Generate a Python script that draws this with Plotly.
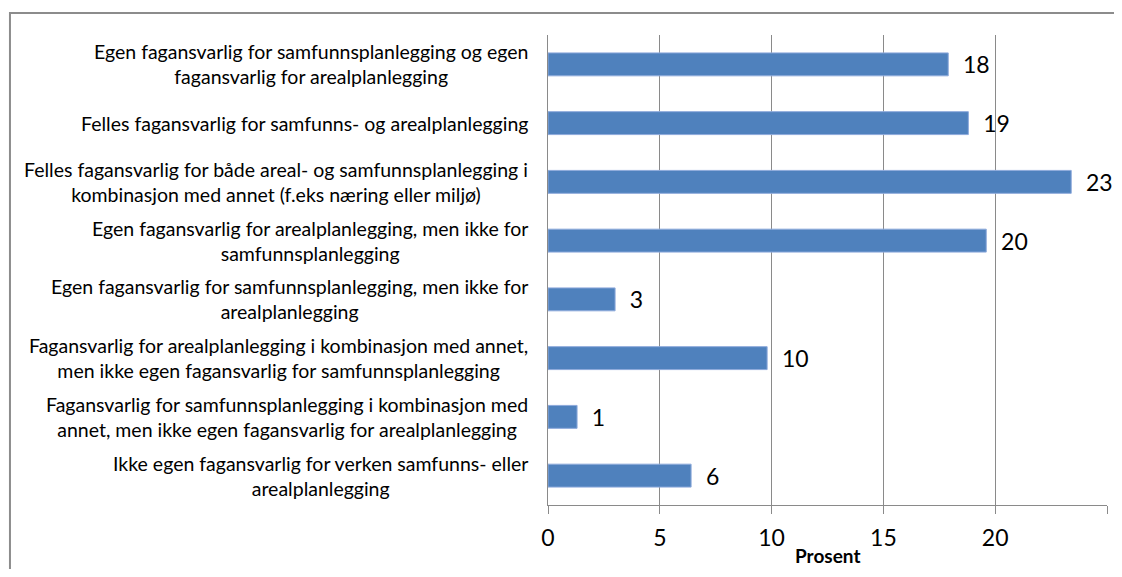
import plotly.graph_objects as go

categories = [
    "Egen fagansvarlig for samfunnsplanlegging og egen<br>fagansvarlig for arealplanlegging",
    "Felles fagansvarlig for samfunns- og arealplanlegging",
    "Felles fagansvarlig for både areal- og samfunnsplanlegging i<br>kombinasjon med annet (f.eks næring eller miljø)",
    "Egen fagansvarlig for arealplanlegging, men ikke for<br>samfunnsplanlegging",
    "Egen fagansvarlig for samfunnsplanlegging, men ikke for<br>arealplanlegging",
    "Fagansvarlig for arealplanlegging i kombinasjon med annet,<br>men ikke egen fagansvarlig for samfunnsplanlegging",
    "Fagansvarlig for samfunnsplanlegging i kombinasjon med<br>annet, men ikke egen fagansvarlig for arealplanlegging",
    "Ikke egen fagansvarlig for verken samfunns- eller<br>arealplanlegging",
]
values = [17.9, 18.8, 23.4, 19.6, 3.0, 9.8, 1.3, 6.4]
labels = ["18", "19", "23", "20", "3", "10", "1", "6"]

FONT = "Lato, 'Open Sans', sans-serif"
keys = [f"c{i}" for i in range(len(categories))]

fig = go.Figure()
fig.add_trace(go.Bar(
    y=keys,
    x=values,
    orientation='h',
    marker=dict(color='#4F81BD', line=dict(color='#8EAADB', width=1)),
    text=["\u00a0\u00a0" + t for t in labels],
    textposition='outside',
    constraintext='none',
    cliponaxis=False,
    textfont=dict(size=23, color='black', family=FONT),
    hoverinfo='x+y',
))

# category labels, centre-aligned blocks like the original
for k, c in zip(keys, categories):
    fig.add_annotation(
        x=0, xref='paper', y=k, yref='y',
        text=c, showarrow=False, xanchor='right', xshift=-18,
        align='center', font=dict(size=19.5, color='black', family=FONT),
    )

# axis title kept inside the figure box (anything past it makes the page overflow)
fig.add_annotation(
    x=0.5, xref='paper', y=-0.1362, yref='paper', yanchor='bottom',
    text='<b>Prosent</b>', showarrow=False,
    font=dict(size=19, color='black', family=FONT),
)

# outer frame (only top/left edge visible)
fig.add_shape(type='rect', xref='paper', yref='paper',
              x0=-0.9625, x1=1.2, y0=-0.4, y1=1.0468,
              line=dict(color='#8C8C8C', width=2), fillcolor='rgba(0,0,0,0)', layer='below')

# figure is 1106x561 so that, with the page's 8px body margin, it fills the window
fig.update_layout(
    width=1106, height=561,
    margin=dict(l=540, r=7, t=27, b=64),
    paper_bgcolor='white', plot_bgcolor='white',
    bargap=0.61,
    showlegend=False,
    font=dict(family=FONT, color='black'),
    xaxis=dict(
        range=[0, 25], dtick=5, tick0=0,
        showgrid=True, gridcolor='#8A8A8A', gridwidth=1.3,
        showline=True, linecolor='#8A8A8A', linewidth=1.3,
        ticks='outside', ticklen=8, tickcolor='#8A8A8A',
        tickfont=dict(size=23, color='black'),
        ticklabelstandoff=4,
        zeroline=False,
    ),
    yaxis=dict(
        autorange='reversed', showticklabels=False,
        showline=True, linecolor='#8A8A8A', linewidth=1.3,
        showgrid=False, zeroline=False,
    ),
)

fig.write_html("out.html", config={'displayModeBar': False})
